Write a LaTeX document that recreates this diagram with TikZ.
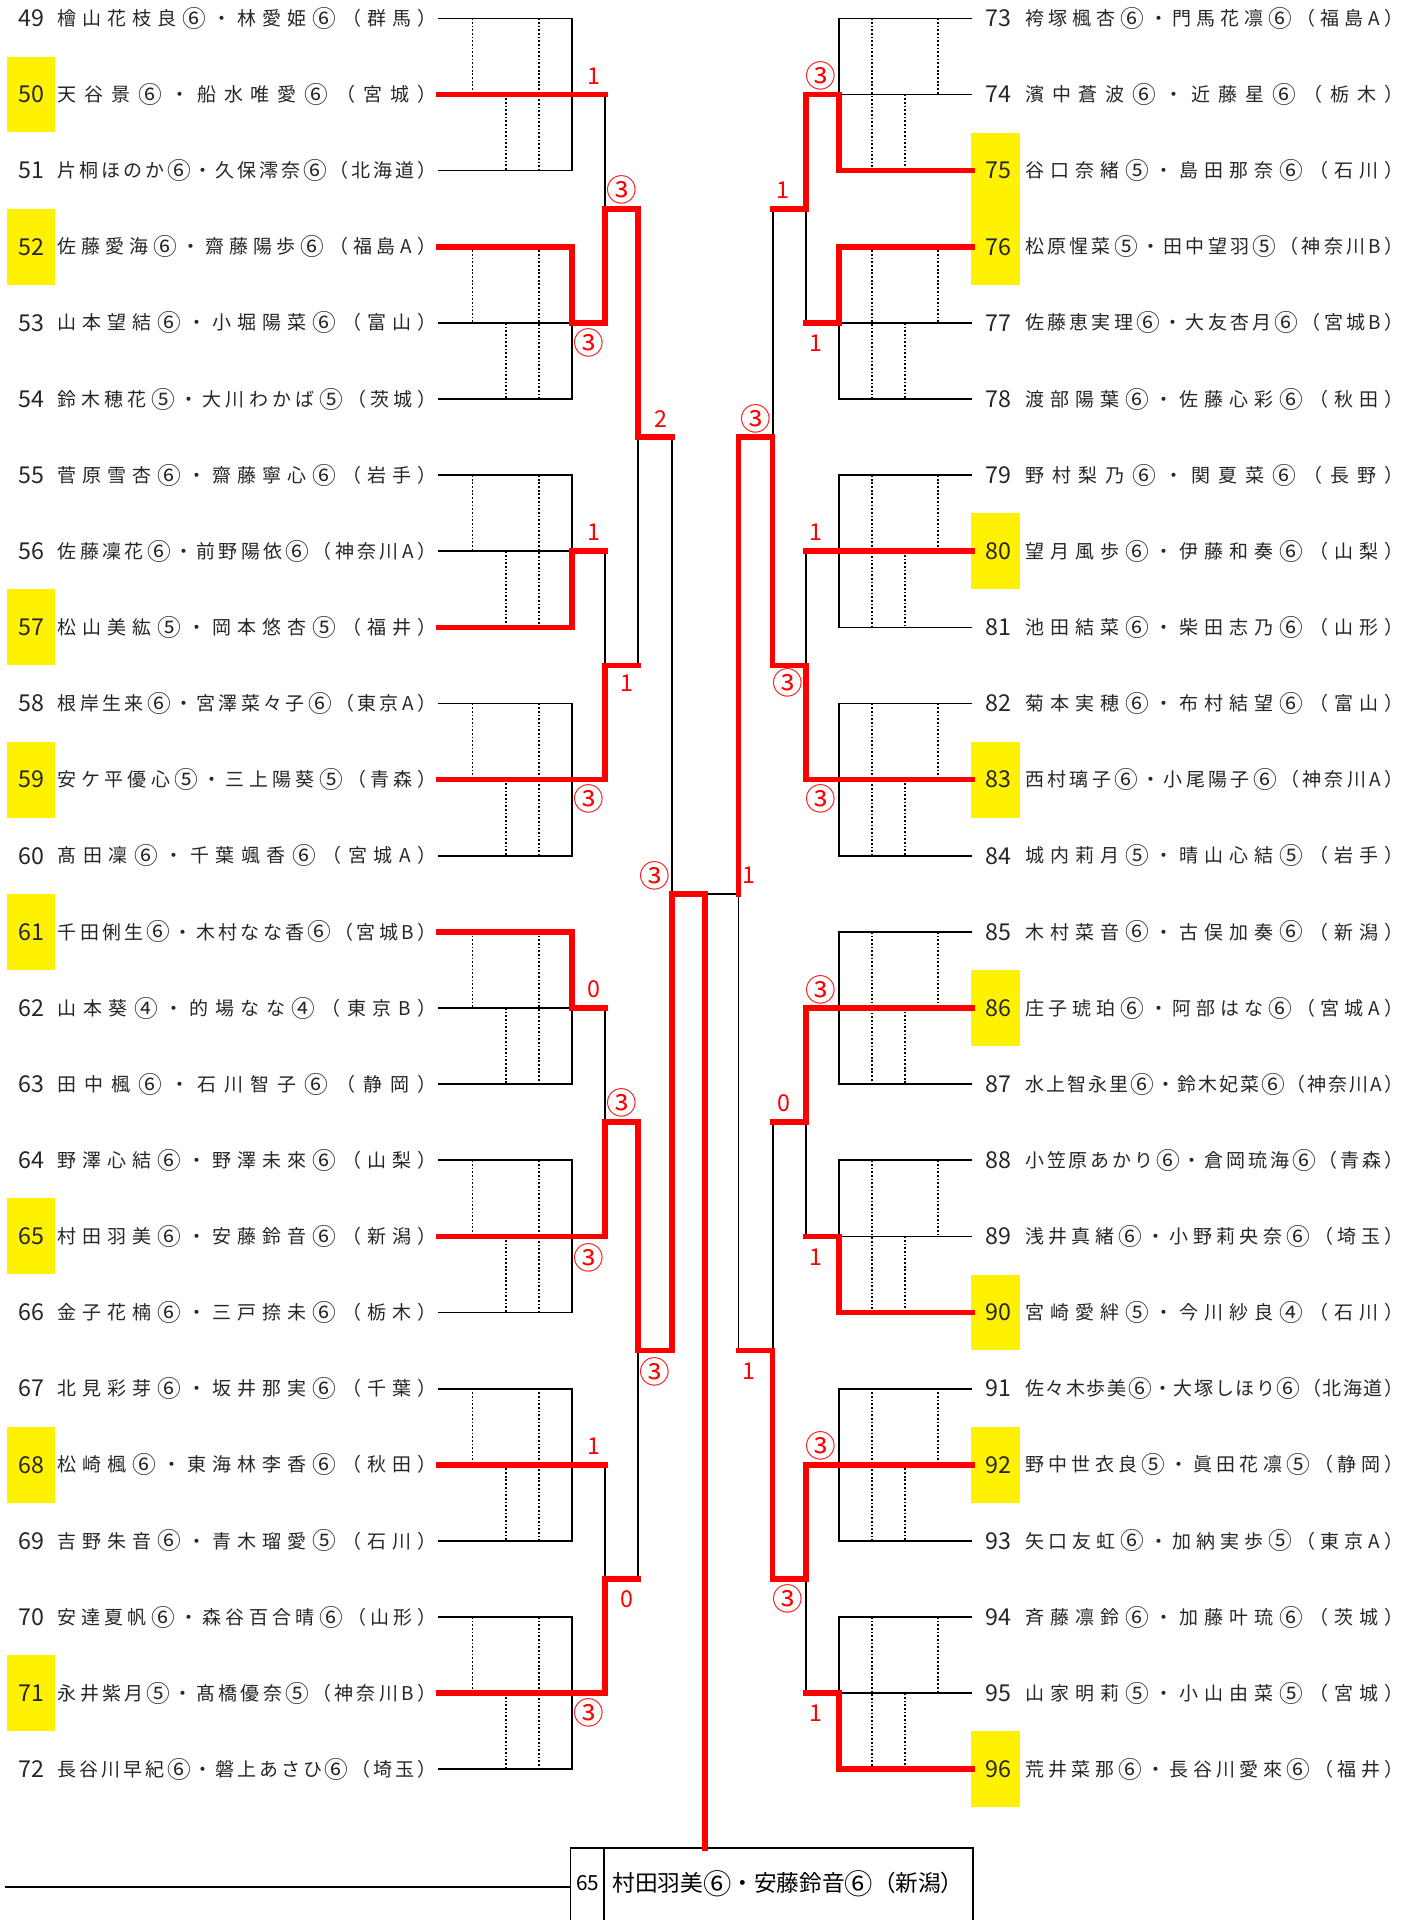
\documentclass[tikz,border=0pt]{standalone}
\usepackage{fontspec}
\setmainfont{Noto Sans CJK JP}

% 丸数字を少し大きく
\newcommand{\cs}[1]{\raisebox{-.1em}{\scalebox{1.25}{#1}}}
% 左右の組み合わせ（番号・ペア名）
\newcommand{\teamL}[3]{%
  \node[numtxt] (num#2) at (25.5,{ry(#1)}) {#2};
  \node[teamtxt] (team#2) at (47,{ry(#1)}) {\makebox[309pt][s]{\spaceskip=0pt plus 1fil #3}};}
\newcommand{\teamR}[3]{%
  \node[numtxt] (num#2) at (815.5,{ry(#1)}) {#2};
  \node[teamtxt] (team#2) at (837,{ry(#1)}) {\makebox[309pt][s]{\spaceskip=0pt plus 1fil #3}};}

\begin{document}
\begin{tikzpicture}[
    x=1pt, y=-1pt,
    declare function={ry(\i)=15+62.17*\i;},
    rule/.style={black, line width=1.4pt},
    dotrule/.style={black, line width=1.3pt, dash pattern=on 1.4pt off 1.6pt},
    winpath/.style={red, line width=4.6pt, line cap=rect, line join=miter},
    score/.style={red, inner sep=0, font=\fontsize{19}{20}\selectfont},
    scorec/.style={score, font=\fontsize{25}{26}\selectfont},
    numtxt/.style={inner sep=0, text=black!85, font=\fontsize{19}{20}\selectfont},
    teamtxt/.style={inner sep=0, anchor=west, text=black!85, font=\fontsize{15.5}{17}\selectfont},
    hilite/.style={fill=yellow}
]

\useasboundingbox (0,0) rectangle (1151,1568);

% Parámetros de columnas
\def\Lst{358}  \def\LdotA{386} \def\LdotB{413} \def\LdotC{440}
\def\Lgrp{467} \def\Lsec{494}  \def\Lthi{521}  \def\Lfou{549}
\def\Cx{576}
\def\Rfou{603} \def\Rthi{631}  \def\Rsec{658}  \def\Rgrp{685}
\def\RdotC{712} \def\RdotB{739} \def\RdotA{766} \def\Rst{794}

% ============================================
% 勝ち上がり（黄色）
% ============================================
\foreach \r in {1,3,8,10,12,16,19,22}
  \fill[hilite] (6,{ry(\r)-31}) rectangle (45,{ry(\r)+31});
\foreach \r in {2,3,7,10,13,17,19,23}
  \fill[hilite] (793,{ry(\r)-31}) rectangle (833,{ry(\r)+31});

% ============================================
% 左ブロック（黒線）
% ============================================
\foreach \g in {0,...,7} {
  \draw[rule] (\Lst,{ry(3*\g)}) -- (\Lgrp,{ry(3*\g)}) -- (\Lgrp,{ry(3*\g+2)}) -- (\Lst,{ry(3*\g+2)});
  \draw[rule] (\Lst,{ry(3*\g+1)}) -- (\Lsec,{ry(3*\g+1)});
  \draw[dotrule] (\LdotA,{ry(3*\g)}) -- (\LdotA,{ry(3*\g+1)});
  \draw[dotrule] (\LdotB,{ry(3*\g+1)}) -- (\LdotB,{ry(3*\g+2)});
  \draw[dotrule] (\LdotC,{ry(3*\g)}) -- (\LdotC,{ry(3*\g+2)});
}
\foreach \m in {0,...,3} {
  \draw[rule] (\Lsec,{ry(6*\m+1)}) -- (\Lsec,{ry(6*\m+4)});
  \draw[rule] (\Lsec,{ry(6*\m+2.5)}) -- (\Lthi,{ry(6*\m+2.5)});
}
\foreach \n in {0,1} {
  \draw[rule] (\Lthi,{ry(12*\n+2.5)}) -- (\Lthi,{ry(12*\n+8.5)});
  \draw[rule] (\Lthi,{ry(12*\n+5.5)}) -- (\Lfou,{ry(12*\n+5.5)});
}
\draw[rule] (\Lfou,{ry(5.5)}) -- (\Lfou,{ry(17.5)});
\draw[rule] (\Lfou,{ry(11.5)}) -- (\Cx,{ry(11.5)});

% ============================================
% 右ブロック（黒線）
% ============================================
\foreach \g in {0,...,7} {
  \draw[rule] (\Rst,{ry(3*\g)}) -- (\Rgrp,{ry(3*\g)}) -- (\Rgrp,{ry(3*\g+2)}) -- (\Rst,{ry(3*\g+2)});
  \draw[rule] (\Rst,{ry(3*\g+1)}) -- (\Rsec,{ry(3*\g+1)});
  \draw[dotrule] (\RdotA,{ry(3*\g)}) -- (\RdotA,{ry(3*\g+1)});
  \draw[dotrule] (\RdotB,{ry(3*\g+1)}) -- (\RdotB,{ry(3*\g+2)});
  \draw[dotrule] (\RdotC,{ry(3*\g)}) -- (\RdotC,{ry(3*\g+2)});
}
\foreach \m in {0,...,3} {
  \draw[rule] (\Rsec,{ry(6*\m+1)}) -- (\Rsec,{ry(6*\m+4)});
  \draw[rule] (\Rsec,{ry(6*\m+2.5)}) -- (\Rthi,{ry(6*\m+2.5)});
}
\foreach \n in {0,1} {
  \draw[rule] (\Rthi,{ry(12*\n+2.5)}) -- (\Rthi,{ry(12*\n+8.5)});
  \draw[rule] (\Rthi,{ry(12*\n+5.5)}) -- (\Rfou,{ry(12*\n+5.5)});
}
\draw[rule] (\Rfou,{ry(5.5)}) -- (\Rfou,{ry(17.5)});
\draw[rule] (\Rfou,{ry(11.5)}) -- (\Cx,{ry(11.5)});

% ============================================
% 優勝枠
% ============================================
\draw[rule] (4,1541) -- (466,1541);
\draw[rule] (466,1568) -- (466,1509) -- (794.5,1509) -- (794.5,1568);
\draw[rule] (493,1509) -- (493,1568);
\node[inner sep=0, font=\fontsize{17}{18}\selectfont] (finalnum) at (480,1538) {65};
\node[inner sep=0, anchor=west, font=\fontsize{18.5}{20}\selectfont] (finalteam) at (500,1538) {村田羽美\cs{⑥}・安藤鈴音\cs{⑥}（新潟）};

% ============================================
% 勝ち上がり線（赤）
% ============================================
% 左
\draw[winpath] (\Lst,{ry(1)}) -- (\Lsec,{ry(1)});
\draw[winpath] (\Lst,{ry(3)}) -- (\Lgrp,{ry(3)}) -- (\Lgrp,{ry(4)}) -- (\Lsec,{ry(4)}) -- (\Lsec,{ry(2.5)}) -- (\Lthi,{ry(2.5)}) -- (\Lthi,{ry(5.5)}) -- (\Lfou,{ry(5.5)});
\draw[winpath] (\Lst,{ry(8)}) -- (\Lgrp,{ry(8)}) -- (\Lgrp,{ry(7)}) -- (\Lsec,{ry(7)});
\draw[winpath] (\Lst,{ry(10)}) -- (\Lsec,{ry(10)}) -- (\Lsec,{ry(8.5)}) -- (\Lthi,{ry(8.5)});
\draw[winpath] (\Lst,{ry(12)}) -- (\Lgrp,{ry(12)}) -- (\Lgrp,{ry(13)}) -- (\Lsec,{ry(13)});
\draw[winpath] (\Lst,{ry(16)}) -- (\Lsec,{ry(16)}) -- (\Lsec,{ry(14.5)}) -- (\Lthi,{ry(14.5)}) -- (\Lthi,{ry(17.5)}) -- (\Lfou,{ry(17.5)}) -- (\Lfou,{ry(11.5)}) -- (\Cx,{ry(11.5)}) -- (\Cx,1509);
\draw[winpath] (\Lst,{ry(19)}) -- (\Lsec,{ry(19)});
\draw[winpath] (\Lst,{ry(22)}) -- (\Lsec,{ry(22)}) -- (\Lsec,{ry(20.5)}) -- (\Lthi,{ry(20.5)});
% 右
\draw[winpath] (\Rst,{ry(2)}) -- (\Rgrp,{ry(2)}) -- (\Rgrp,{ry(1)}) -- (\Rsec,{ry(1)}) -- (\Rsec,{ry(2.5)}) -- (\Rthi,{ry(2.5)});
\draw[winpath] (\Rst,{ry(3)}) -- (\Rgrp,{ry(3)}) -- (\Rgrp,{ry(4)}) -- (\Rsec,{ry(4)});
\draw[winpath] (\Rst,{ry(7)}) -- (\Rsec,{ry(7)});
\draw[winpath] (\Rst,{ry(10)}) -- (\Rsec,{ry(10)}) -- (\Rsec,{ry(8.5)}) -- (\Rthi,{ry(8.5)}) -- (\Rthi,{ry(5.5)}) -- (\Rfou,{ry(5.5)}) -- (\Rfou,{ry(11.5)});
\draw[winpath] (\Rst,{ry(13)}) -- (\Rsec,{ry(13)}) -- (\Rsec,{ry(14.5)}) -- (\Rthi,{ry(14.5)});
\draw[winpath] (\Rst,{ry(17)}) -- (\Rgrp,{ry(17)}) -- (\Rgrp,{ry(16)}) -- (\Rsec,{ry(16)});
\draw[winpath] (\Rst,{ry(19)}) -- (\Rsec,{ry(19)}) -- (\Rsec,{ry(20.5)}) -- (\Rthi,{ry(20.5)}) -- (\Rthi,{ry(17.5)}) -- (\Rfou,{ry(17.5)});
\draw[winpath] (\Rst,{ry(23)}) -- (\Rgrp,{ry(23)}) -- (\Rgrp,{ry(22)}) -- (\Rsec,{ry(22)});

% ============================================
% スコア
% ============================================
\node[score]  (sL50) at (485,62) {1};
\node[scorec] (sL53) at (481,280) {③};
\node[score]  (sL56) at (485,435) {1};
\node[scorec] (sL59) at (481,652) {③};
\node[score]  (sL62) at (485,808) {0};
\node[scorec] (sL65) at (481,1027) {③};
\node[score]  (sL68) at (485,1181) {1};
\node[scorec] (sL71) at (481,1399) {③};
\node[scorec] (sLqa) at (508,155) {③};
\node[score]  (sLqb) at (512,558) {1};
\node[scorec] (sLqc) at (508,901) {③};
\node[score]  (sLqd) at (512,1306) {0};
\node[score]  (sLsa) at (540,342) {2};
\node[scorec] (sLsb) at (535,1120) {③};
\node[scorec] (sLf)  at (535,715) {③};

\node[scorec] (sR74) at (670,62) {③};
\node[score]  (sR77) at (666,280) {1};
\node[score]  (sR80) at (666,435) {1};
\node[scorec] (sR83) at (670,652) {③};
\node[scorec] (sR86) at (670,808) {③};
\node[score]  (sR89) at (666,1027) {1};
\node[scorec] (sR92) at (670,1181) {③};
\node[score]  (sR95) at (666,1399) {1};
\node[score]  (sRqa) at (639,155) {1};
\node[scorec] (sRqb) at (643,558) {③};
\node[score]  (sRqc) at (640,901) {0};
\node[scorec] (sRqd) at (643,1306) {③};
\node[scorec] (sRsa) at (617,342) {③};
\node[score]  (sRsb) at (612,1120) {1};
\node[score]  (sRf)  at (612,715) {1};

% ============================================
% 出場ペア
% ============================================
\teamL{0}{49}{檜 山 花 枝 良 \cs{⑥} ・ 林 愛 姫 \cs{⑥} （ 群 馬 ）}
\teamL{1}{50}{天 谷 景 \cs{⑥} ・ 船 水 唯 愛 \cs{⑥} （ 宮 城 ）}
\teamL{2}{51}{片 桐 ほ の か \cs{⑥} ・ 久 保 澪 奈 \cs{⑥} （ 北 海 道 ）}
\teamL{3}{52}{佐 藤 愛 海 \cs{⑥} ・ 齋 藤 陽 歩 \cs{⑥} （ 福 島 A ）}
\teamL{4}{53}{山 本 望 結 \cs{⑥} ・ 小 堀 陽 菜 \cs{⑥} （ 富 山 ）}
\teamL{5}{54}{鈴 木 穂 花 \cs{⑤} ・ 大 川 わ か ば \cs{⑤} （ 茨 城 ）}
\teamL{6}{55}{菅 原 雪 杏 \cs{⑥} ・ 齋 藤 寧 心 \cs{⑥} （ 岩 手 ）}
\teamL{7}{56}{佐 藤 凜 花 \cs{⑥} ・ 前 野 陽 依 \cs{⑥} （ 神 奈 川 A ）}
\teamL{8}{57}{松 山 美 紘 \cs{⑤} ・ 岡 本 悠 杏 \cs{⑤} （ 福 井 ）}
\teamL{9}{58}{根 岸 生 来 \cs{⑥} ・ 宮 澤 菜 々 子 \cs{⑥} （ 東 京 A ）}
\teamL{10}{59}{安 ケ 平 優 心 \cs{⑤} ・ 三 上 陽 葵 \cs{⑤} （ 青 森 ）}
\teamL{11}{60}{髙 田 凜 \cs{⑥} ・ 千 葉 颯 香 \cs{⑥} （ 宮 城 A ）}
\teamL{12}{61}{千 田 俐 生 \cs{⑥} ・ 木 村 な な 香 \cs{⑥} （ 宮 城 B ）}
\teamL{13}{62}{山 本 葵 \cs{④} ・ 的 場 な な \cs{④} （ 東 京 B ）}
\teamL{14}{63}{田 中 楓 \cs{⑥} ・ 石 川 智 子 \cs{⑥} （ 静 岡 ）}
\teamL{15}{64}{野 澤 心 結 \cs{⑥} ・ 野 澤 未 來 \cs{⑥} （ 山 梨 ）}
\teamL{16}{65}{村 田 羽 美 \cs{⑥} ・ 安 藤 鈴 音 \cs{⑥} （ 新 潟 ）}
\teamL{17}{66}{金 子 花 楠 \cs{⑥} ・ 三 戸 捺 未 \cs{⑥} （ 栃 木 ）}
\teamL{18}{67}{北 見 彩 芽 \cs{⑥} ・ 坂 井 那 実 \cs{⑥} （ 千 葉 ）}
\teamL{19}{68}{松 崎 楓 \cs{⑥} ・ 東 海 林 李 香 \cs{⑥} （ 秋 田 ）}
\teamL{20}{69}{吉 野 朱 音 \cs{⑥} ・ 青 木 瑠 愛 \cs{⑤} （ 石 川 ）}
\teamL{21}{70}{安 達 夏 帆 \cs{⑥} ・ 森 谷 百 合 晴 \cs{⑥} （ 山 形 ）}
\teamL{22}{71}{永 井 紫 月 \cs{⑤} ・ 髙 橋 優 奈 \cs{⑤} （ 神 奈 川 B ）}
\teamL{23}{72}{長 谷 川 早 紀 \cs{⑥} ・ 磐 上 あ さ ひ \cs{⑥} （ 埼 玉 ）}

\teamR{0}{73}{袴 塚 楓 杏 \cs{⑥} ・ 門 馬 花 凛 \cs{⑥} （ 福 島 A ）}
\teamR{1}{74}{濱 中 蒼 波 \cs{⑥} ・ 近 藤 星 \cs{⑥} （ 栃 木 ）}
\teamR{2}{75}{谷 口 奈 緒 \cs{⑤} ・ 島 田 那 奈 \cs{⑥} （ 石 川 ）}
\teamR{3}{76}{松 原 惺 菜 \cs{⑤} ・ 田 中 望 羽 \cs{⑤} （ 神 奈 川 B ）}
\teamR{4}{77}{佐 藤 恵 実 理 \cs{⑥} ・ 大 友 杏 月 \cs{⑥} （ 宮 城 B ）}
\teamR{5}{78}{渡 部 陽 葉 \cs{⑥} ・ 佐 藤 心 彩 \cs{⑥} （ 秋 田 ）}
\teamR{6}{79}{野 村 梨 乃 \cs{⑥} ・ 関 夏 菜 \cs{⑥} （ 長 野 ）}
\teamR{7}{80}{望 月 風 歩 \cs{⑥} ・ 伊 藤 和 奏 \cs{⑥} （ 山 梨 ）}
\teamR{8}{81}{池 田 結 菜 \cs{⑥} ・ 柴 田 志 乃 \cs{⑥} （ 山 形 ）}
\teamR{9}{82}{菊 本 実 穂 \cs{⑥} ・ 布 村 結 望 \cs{⑥} （ 富 山 ）}
\teamR{10}{83}{西 村 璃 子 \cs{⑥} ・ 小 尾 陽 子 \cs{⑥} （ 神 奈 川 A ）}
\teamR{11}{84}{城 内 莉 月 \cs{⑤} ・ 晴 山 心 結 \cs{⑤} （ 岩 手 ）}
\teamR{12}{85}{木 村 菜 音 \cs{⑥} ・ 古 俣 加 奏 \cs{⑥} （ 新 潟 ）}
\teamR{13}{86}{庄 子 琥 珀 \cs{⑥} ・ 阿 部 は な \cs{⑥} （ 宮 城 A ）}
\teamR{14}{87}{水 上 智 永 里 \cs{⑥} ・ 鈴 木 妃 菜 \cs{⑥} （ 神 奈 川 A ）}
\teamR{15}{88}{小 笠 原 あ か り \cs{⑥} ・ 倉 岡 琉 海 \cs{⑥} （ 青 森 ）}
\teamR{16}{89}{浅 井 真 緒 \cs{⑥} ・ 小 野 莉 央 奈 \cs{⑥} （ 埼 玉 ）}
\teamR{17}{90}{宮 崎 愛 絆 \cs{⑤} ・ 今 川 紗 良 \cs{④} （ 石 川 ）}
\teamR{18}{91}{佐 々 木 歩 美 \cs{⑥} ・ 大 塚 し ほ り \cs{⑥} （ 北 海 道 ）}
\teamR{19}{92}{野 中 世 衣 良 \cs{⑤} ・ 眞 田 花 凛 \cs{⑤} （ 静 岡 ）}
\teamR{20}{93}{矢 口 友 虹 \cs{⑥} ・ 加 納 実 歩 \cs{⑤} （ 東 京 A ）}
\teamR{21}{94}{斉 藤 凛 鈴 \cs{⑥} ・ 加 藤 叶 琉 \cs{⑥} （ 茨 城 ）}
\teamR{22}{95}{山 家 明 莉 \cs{⑤} ・ 小 山 由 菜 \cs{⑤} （ 宮 城 ）}
\teamR{23}{96}{荒 井 菜 那 \cs{⑥} ・ 長 谷 川 愛 來 \cs{⑥} （ 福 井 ）}

\end{tikzpicture}
\end{document}
